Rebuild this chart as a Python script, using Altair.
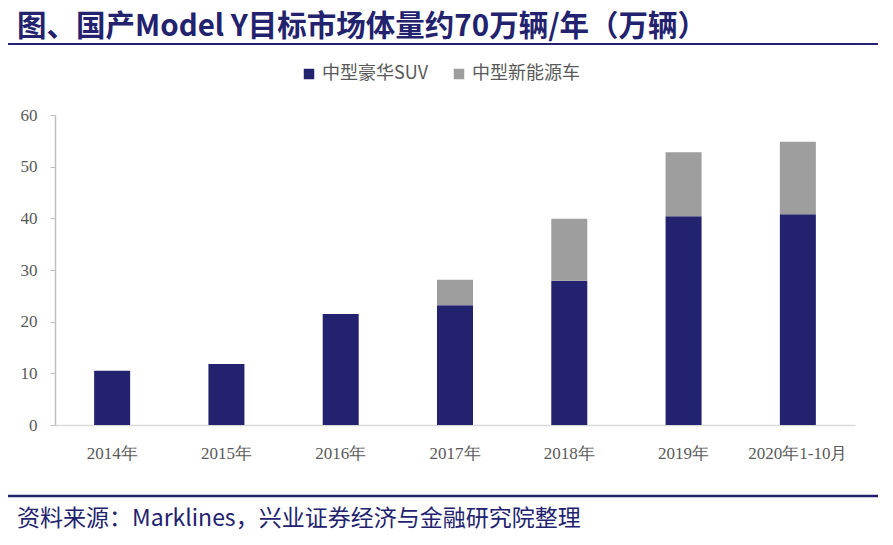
import altair as alt
import pandas as pd

years = ["2014年", "2015年", "2016年", "2017年", "2018年", "2019年", "2020年1-10月"]
suv = [10.5, 11.8, 21.5, 23.2, 27.9, 40.4, 40.8]
nev = [0.0, 0.0, 0.0, 4.9, 12.0, 12.4, 14.0]
series = ["中型豪华SUV", "中型新能源车"]
colors = ["#22226e", "#9e9e9e"]

rows = []
for y, a, b in zip(years, suv, nev):
    rows.append({"year": y, "series": series[0], "value": a, "ord": 0})
    rows.append({"year": y, "series": series[1], "value": b, "ord": 1})
df = pd.DataFrame(rows)

W, H = 800, 310
serif = "Liberation Serif"
cjk = "Noto Sans CJK SC"

bars = alt.Chart(df).mark_bar(width=36).encode(
    x=alt.X("year:N", sort=years, title=None,
            scale=alt.Scale(paddingInner=0.68, paddingOuter=0.34),
            axis=alt.Axis(labelAngle=0, labelFont=serif, labelFontSize=17,
                          labelColor="#595959", labelPadding=20, ticks=False,
                          domainColor="#d9d9d9", domainWidth=1.5, grid=False)),
    y=alt.Y("value:Q", stack="zero", title=None,
            scale=alt.Scale(domain=[0, 60]),
            axis=alt.Axis(values=[0, 10, 20, 30, 40, 50, 60], labelFont=serif,
                          labelFontSize=17, labelColor="#595959", labelPadding=13,
                          tickSize=5, tickColor="#bfbfbf", domainColor="#bfbfbf",
                          domainWidth=1.5, grid=False)),
    color=alt.Color("series:N", sort=series,
                    scale=alt.Scale(domain=series, range=colors),
                    legend=alt.Legend(title=None, orient="none", direction="horizontal",
                                      legendX=245, legendY=-50, symbolType="square",
                                      symbolSize=110, symbolStrokeWidth=0,
                                      labelFont=cjk, labelFontSize=18,
                                      labelColor="#595959", columnPadding=22,
                                      labelOffset=4)),
    order=alt.Order("ord:Q"),
)

title_df = pd.DataFrame({"t": ["图、国产Model Y目标市场体量约70万辆/年（万辆）"]})
title = alt.Chart(title_df).mark_text(
    align="left", baseline="middle", font=cjk, fontSize=29.5, fontWeight="bold",
    color="#22226e").encode(text="t:N", x=alt.value(-38), y=alt.value(-88))

src_df = pd.DataFrame({"t": ["资料来源：Marklines，兴业证券经济与金融研究院整理"]})
source = alt.Chart(src_df).mark_text(
    align="left", baseline="middle", font=cjk, fontSize=23,
    color="#22226e").encode(text="t:N", x=alt.value(-38), y=alt.value(404))

line_top = alt.Chart(title_df).mark_rule(color="#22226e", strokeWidth=2).encode(
    x=alt.value(-52), x2=alt.value(823), y=alt.value(-71))
line_bot = alt.Chart(title_df).mark_rule(color="#22226e", strokeWidth=2.5).encode(
    x=alt.value(-52), x2=alt.value(823), y=alt.value(381))

chart = alt.layer(bars, title, source, line_top, line_bot).properties(
    width=W, height=H,
    background="white",
    autosize=alt.AutoSizeParams(type="none"),
    padding={"left": 47, "top": 107, "right": 30, "bottom": 112},
).configure(
    view={"stroke": "#ffffff", "strokeWidth": 0, "strokeOpacity": 0},
    style={"cell": {"stroke": "#ffffff", "strokeWidth": 0, "strokeOpacity": 0}},
)

chart.save("out.html", embed_options={"renderer": "svg", "actions": False})
